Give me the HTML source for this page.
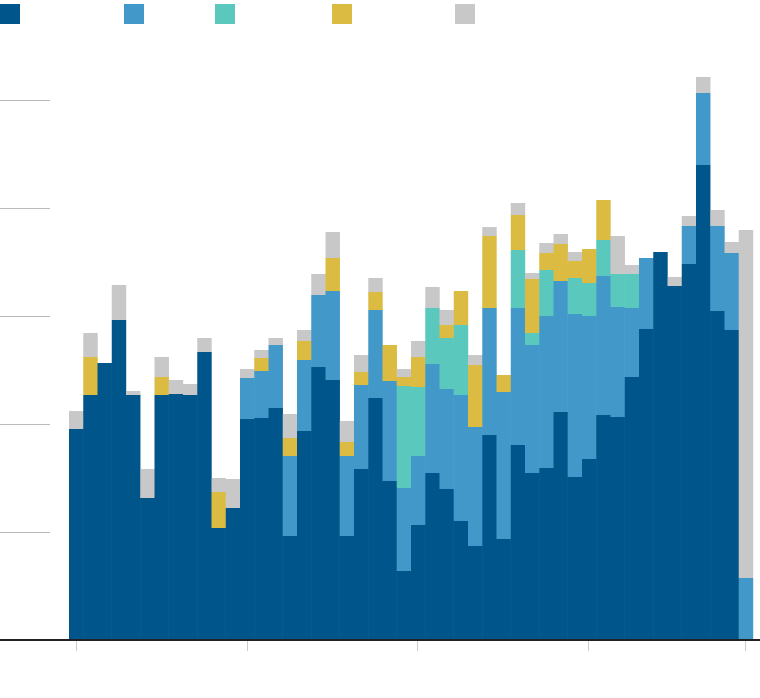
<!DOCTYPE html>
<html><head><meta charset="utf-8"><style>
html,body{margin:0;padding:0;background:#fff;width:760px;height:698px;overflow:hidden}
</style></head><body>
<svg id="s" width="760" height="698" xmlns="http://www.w3.org/2000/svg">
<rect x="0" y="4" width="20" height="20" fill="#00568a"/>
<rect x="124" y="4" width="20" height="20" fill="#4299c9"/>
<rect x="215" y="4" width="20" height="20" fill="#5bc8be"/>
<rect x="332" y="4" width="20" height="20" fill="#dbbb42"/>
<rect x="455" y="4" width="20" height="20" fill="#c8c8c8"/>
<g stroke="#bbb" stroke-width="1">
<line x1="0" x2="50" y1="100.5" y2="100.5"/><line x1="0" x2="50" y1="208.5" y2="208.5"/>
<line x1="0" x2="50" y1="316.5" y2="316.5"/><line x1="0" x2="50" y1="424.5" y2="424.5"/>
<line x1="0" x2="50" y1="532.5" y2="532.5"/>
</g>
<g id="bars"></g>
<rect x="0" y="639" width="760" height="2" fill="#222"/>
<g stroke="#ccc" stroke-width="1">
<line x1="76.5" x2="76.5" y1="641" y2="651"/><line x1="247.5" x2="247.5" y1="641" y2="651"/>
<line x1="417.5" x2="417.5" y1="641" y2="651"/><line x1="588.5" x2="588.5" y1="641" y2="651"/>
<line x1="745.5" x2="745.5" y1="641" y2="651"/>
</g>
</svg>
<script>
var C={d:"#00568a",l:"#4299c9",t:"#5bc8be",y:"#dbbb42",g:"#c8c8c8"};
var B=[
"d429 g411","d395 y357 g333","d363","d320 g285","d395 g391","d498 g469","d395 y377 g357","d394 g380","d395 g384","d352 g338",
"d528 y492 g478","d508 g479","d419 l378 g369","d418 l371 y358 g350","d408 l345 g338","d536 l456 y438 g414","d431 l360 y341 g330","d367 l295 g274","d380 l291 y258 g232","d536 l456 y442 g421",
"d469 l385 y372 g355","d398 l310 y292 g278","d481 l381 y345","d571 l488 t386 y377 g369","d525 l456 t387 y357 g341","d473 l364 t308 g287","d489 l389 t338 y325 g310","d521 l395 t325 y291","d546 l427 y365 g355","d435 l308 y236 g227",
"d539 l392 y375","d445 l308 t250 y215 g203","d473 l345 t333 y279 g273","d468 l316 t270 y253 g243","d412 l281 y244 g234","d477 l314 t278 y261 g252","d459 l316 t283 y249","d415 l276 t240 y200","d417 l307 t274 g236","d377 l308 t274 g265",
"d329 l258","d252","d286 g277","d264 l226 g216","d165 l93 g77","d311 l226 g210","d330 l253 g242","l578 g230"];
var h="";
B.forEach(function(s,i){var x=69+14.25*i,prev=639;s.split(" ").forEach(function(p){var c=C[p[0]],y=+p.slice(1);
h+='<rect x="'+x.toFixed(2)+'" y="'+y+'" width="14.45" height="'+(prev-y)+'" fill="'+c+'"/>';prev=y;});});
document.getElementById("bars").innerHTML=h;
</script>
</body></html>
